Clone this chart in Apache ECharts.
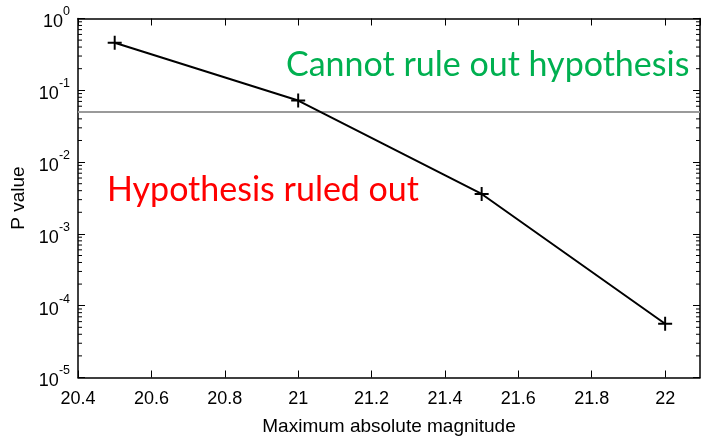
<!DOCTYPE html>
<html>
<head>
<meta charset="utf-8">
<script src="https://cdn.jsdelivr.net/npm/echarts@6/dist/echarts.min.js"></script>
<style>
html,body{margin:0;padding:0;background:#fff;}
#chart{width:704px;height:436px;}
</style>
</head>
<body>
<div id="chart"></div>
<script>
// Data
const magnitudes = [20.5, 21, 21.5, 22];
const pValues = [0.46, 0.072, 0.0036, 0.000056];
const threshold = 0.05;
const xTickLabels = ['20.4', '20.6', '20.8', '21', '21.2', '21.4', '21.6', '21.8', '22'];
const yDecades = [-5, -4, -3, -2, -1, 0];
const textAbove = 'Cannot rule out hypothesis';
const textBelow = 'Hypothesis ruled out';
const xTitle = 'Maximum absolute magnitude';
const yTitle = 'P value';

// minor tick values for log axis (2..9 x 10^k)
const minorVals = [];
for (let k = yDecades[0]; k < yDecades[yDecades.length - 1]; k++) {
  for (let m = 2; m <= 9; m++) minorVals.push(m * Math.pow(10, k));
}

const chart = echarts.init(document.getElementById('chart'), null, {renderer: 'canvas'});
const FONT = '"Liberation Sans", Arial, Helvetica, sans-serif';
const XMIN = 20.4, XMAX = 22.095;

function yLabel(v) {
  const e = Math.round(Math.log10(v));
  return '{b|10}{s|' + e + '}';
}
function xLabel(v) {
  const s = String(Math.round(v * 10) / 10);
  return xTickLabels.indexOf(s) >= 0 && Math.abs(v * 10 - Math.round(v * 10)) < 1e-6 ? s : '';
}

const option = {
  animation: false,
  backgroundColor: '#fff',
  grid: {left: 78, right: 4, top: 18.5, bottom: 58.5, containLabel: false, outerBoundsMode: 'none'},
  xAxis: [{
    type: 'value', min: XMIN, max: XMAX, interval: 0.2,
    name: xTitle, nameLocation: 'middle', nameGap: 40,
    nameTextStyle: {fontFamily: FONT, fontSize: 19, color: '#000'},
    axisLine: {lineStyle: {color: '#000', width: 1.5}},
    axisTick: {inside: true, length: 7, lineStyle: {color: '#000', width: 1}},
    axisLabel: {formatter: xLabel, fontFamily: FONT, fontSize: 18, color: '#000', margin: 13, showMaxLabel: false},
    splitLine: {show: false}
  }, {
    type: 'value', min: XMIN, max: XMAX, interval: 0.2, position: 'top',
    axisLine: {lineStyle: {color: '#000', width: 1.5}},
    axisTick: {inside: true, length: 7, lineStyle: {color: '#000', width: 1}},
    axisLabel: {show: false}, splitLine: {show: false}
  }],
  yAxis: [{
    type: 'log', logBase: 10, min: Math.pow(10, yDecades[0]), max: 1,
    name: yTitle, nameLocation: 'middle', nameGap: 49, nameRotate: 90,
    nameTextStyle: {fontFamily: FONT, fontSize: 19, color: '#000'},
    axisLine: {show: true, lineStyle: {color: '#000', width: 1.5}},
    axisTick: {inside: true, length: 7, lineStyle: {color: '#000', width: 1}},
    axisLabel: {
      formatter: yLabel, margin: 8, color: '#000',
      rich: {
        b: {fontFamily: FONT, fontSize: 18, color: '#000', lineHeight: 26, verticalAlign: 'bottom'},
        s: {fontFamily: FONT, fontSize: 12.5, color: '#000', lineHeight: 26, verticalAlign: 'top'}
      }
    },
    splitLine: {show: false}
  }, {
    type: 'log', logBase: 10, min: Math.pow(10, yDecades[0]), max: 1, position: 'right',
    axisLine: {show: true, lineStyle: {color: '#000', width: 1.5}},
    axisTick: {inside: true, length: 7, lineStyle: {color: '#000', width: 1}},
    axisLabel: {show: false}, splitLine: {show: false}
  }],
  graphic: [
    {type: 'text', left: 286, top: 48, style: {text: textAbove, fill: '#00B050', font: '34px Lato, "Open Sans", sans-serif'}},
    {type: 'text', left: 107, top: 173, style: {text: textBelow, fill: '#FF0000', font: '34px Lato, "Open Sans", sans-serif'}}
  ],
  series: [{
    type: 'custom',
    xAxisIndex: 0, yAxisIndex: 0,
    data: minorVals.map(v => [XMIN, v]),
    silent: true,
    renderItem: function (params, api) {
      const p = api.coord([XMIN, api.value(1)]);
      const cs = params.coordSys;
      const style = {stroke: '#000', lineWidth: 1};
      return {type: 'group', children: [
        {type: 'line', shape: {x1: cs.x, y1: p[1], x2: cs.x + 4, y2: p[1]}, style: style},
        {type: 'line', shape: {x1: cs.x + cs.width - 4, y1: p[1], x2: cs.x + cs.width, y2: p[1]}, style: style}
      ]};
    },
    z: 3
  }, {
    type: 'line',
    xAxisIndex: 0, yAxisIndex: 0,
    data: magnitudes.map((m, i) => [m, pValues[i]]),
    symbol: 'path://M0,43h100v14h-100zM43,0h14v100h-14z',
    symbolSize: 14,
    itemStyle: {color: '#000'},
    lineStyle: {color: '#000', width: 2},
    markLine: {
      silent: true, symbol: 'none', label: {show: false},
      lineStyle: {color: '#9a9a9a', width: 2, type: 'solid'},
      data: [{yAxis: threshold}]
    },
    z: 5
  }]
};
chart.setOption(option);
</script>
</body>
</html>
